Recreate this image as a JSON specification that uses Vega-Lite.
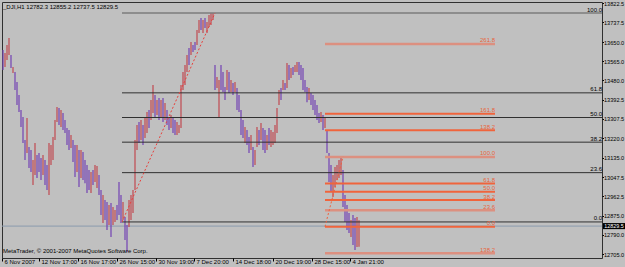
{
  "$schema": "https://vega.github.io/schema/vega-lite/v6.json",
  "width": 600,
  "height": 256,
  "autosize": {"type": "none"},
  "padding": {"left": 2, "top": 2, "right": 23, "bottom": 9},
  "background": "#c0c0c0",
  "config": {"view": {"stroke": "#303030", "strokeWidth": 1}, "font": "Liberation Sans", "axis": {"grid": false}},
  "datasets": {
    "bars": [
      {"t":1,"p":13614,"low":13525,"dir":"d"},{"t":3,"p":13601,"low":13539,"dir":"u"},{"t":5,"p":13637,"low":13570,"dir":"u"},{"t":7,"p":13668,"low":13592,"dir":"u"},{"t":9,"p":13592,"low":13534,"dir":"d"},{"t":11,"p":13539,"low":13512,"dir":"u"},{"t":13,"p":13516,"low":13436,"dir":"d"},{"t":15,"p":13472,"low":13369,"dir":"d"},{"t":17,"p":13414,"low":13338,"dir":"d"},{"t":19,"p":13347,"low":13271,"dir":"d"},
      {"t":21,"p":13316,"low":13200,"dir":"d"},{"t":23,"p":13213,"low":13124,"dir":"d"},{"t":25,"p":13311,"low":13155,"dir":"u"},{"t":27,"p":13182,"low":13088,"dir":"d"},{"t":29,"p":13169,"low":13071,"dir":"d"},{"t":31,"p":13124,"low":13013,"dir":"u"},{"t":33,"p":13200,"low":13057,"dir":"u"},{"t":35,"p":13146,"low":13044,"dir":"d"},{"t":37,"p":13155,"low":13071,"dir":"d"},{"t":39,"p":13133,"low":13035,"dir":"d"},
      {"t":41,"p":13146,"low":13057,"dir":"u"},{"t":43,"p":13124,"low":13013,"dir":"d"},{"t":45,"p":13102,"low":12990,"dir":"d"},{"t":47,"p":13200,"low":12968,"dir":"u"},{"t":49,"p":13191,"low":13102,"dir":"u"},{"t":51,"p":13227,"low":13124,"dir":"u"},{"t":53,"p":13302,"low":13213,"dir":"u"},{"t":55,"p":13360,"low":13293,"dir":"u"},{"t":57,"p":13356,"low":13280,"dir":"d"},{"t":59,"p":13347,"low":13271,"dir":"u"},
      {"t":61,"p":13334,"low":13258,"dir":"d"},{"t":63,"p":13302,"low":13244,"dir":"d"},{"t":65,"p":13267,"low":13191,"dir":"d"},{"t":67,"p":13258,"low":13169,"dir":"d"},{"t":69,"p":13235,"low":13178,"dir":"u"},{"t":71,"p":13213,"low":13115,"dir":"d"},{"t":73,"p":13191,"low":13048,"dir":"d"},{"t":75,"p":13191,"low":13071,"dir":"u"},{"t":77,"p":13169,"low":13004,"dir":"d"},{"t":79,"p":13169,"low":13044,"dir":"u"},
      {"t":81,"p":13160,"low":13035,"dir":"d"},{"t":83,"p":13124,"low":13021,"dir":"d"},{"t":85,"p":13102,"low":12977,"dir":"d"},{"t":87,"p":13079,"low":12990,"dir":"d"},{"t":89,"p":13071,"low":12977,"dir":"u"},{"t":91,"p":13079,"low":13013,"dir":"d"},{"t":93,"p":13102,"low":13026,"dir":"u"},{"t":95,"p":13097,"low":12999,"dir":"u"},{"t":97,"p":13057,"low":12968,"dir":"d"},{"t":99,"p":12990,"low":12879,"dir":"d"},
      {"t":101,"p":12968,"low":12843,"dir":"u"},{"t":103,"p":12946,"low":12857,"dir":"d"},{"t":105,"p":12937,"low":12812,"dir":"d"},{"t":107,"p":12923,"low":12834,"dir":"u"},{"t":109,"p":12932,"low":12781,"dir":"d"},{"t":111,"p":12915,"low":12834,"dir":"u"},{"t":113,"p":12901,"low":12848,"dir":"u"},{"t":115,"p":12923,"low":12857,"dir":"d"},{"t":117,"p":13026,"low":12879,"dir":"d"},{"t":119,"p":12968,"low":12843,"dir":"d"},
      {"t":121,"p":12937,"low":12857,"dir":"u"},{"t":123,"p":12870,"low":12768,"dir":"d"},{"t":125,"p":12834,"low":12714,"dir":"d"},{"t":127,"p":12946,"low":12825,"dir":"u"},{"t":129,"p":12968,"low":12857,"dir":"u"},{"t":131,"p":12990,"low":12888,"dir":"u"},{"t":133,"p":13213,"low":12990,"dir":"u"},{"t":135,"p":13280,"low":13169,"dir":"u"},{"t":137,"p":13293,"low":13200,"dir":"d"},{"t":139,"p":13302,"low":13213,"dir":"u"},
      {"t":141,"p":13280,"low":13191,"dir":"d"},{"t":143,"p":13311,"low":13222,"dir":"u"},{"t":145,"p":13338,"low":13244,"dir":"u"},{"t":147,"p":13347,"low":13267,"dir":"d"},{"t":149,"p":13391,"low":13302,"dir":"u"},{"t":151,"p":13458,"low":13334,"dir":"u"},{"t":153,"p":13414,"low":13311,"dir":"d"},{"t":155,"p":13391,"low":13325,"dir":"u"},{"t":157,"p":13400,"low":13302,"dir":"d"},{"t":159,"p":13391,"low":13311,"dir":"u"},
      {"t":161,"p":13400,"low":13293,"dir":"d"},{"t":163,"p":13378,"low":13302,"dir":"u"},{"t":165,"p":13347,"low":13280,"dir":"d"},{"t":167,"p":13316,"low":13258,"dir":"d"},{"t":169,"p":13325,"low":13267,"dir":"u"},{"t":171,"p":13311,"low":13244,"dir":"d"},{"t":173,"p":13302,"low":13235,"dir":"d"},{"t":175,"p":13293,"low":13235,"dir":"u"},{"t":177,"p":13280,"low":13244,"dir":"u"},{"t":179,"p":13458,"low":13267,"dir":"u"},
      {"t":181,"p":13516,"low":13436,"dir":"u"},{"t":183,"p":13548,"low":13458,"dir":"u"},{"t":185,"p":13592,"low":13516,"dir":"u"},{"t":187,"p":13623,"low":13548,"dir":"d"},{"t":189,"p":13650,"low":13592,"dir":"u"},{"t":191,"p":13637,"low":13605,"dir":"d"},{"t":193,"p":13650,"low":13614,"dir":"d"},{"t":195,"p":13704,"low":13637,"dir":"u"},{"t":197,"p":13748,"low":13690,"dir":"u"},{"t":199,"p":13757,"low":13704,"dir":"d"},
      {"t":201,"p":13748,"low":13690,"dir":"u"},{"t":203,"p":13757,"low":13712,"dir":"d"},{"t":205,"p":13739,"low":13690,"dir":"u"},{"t":207,"p":13770,"low":13717,"dir":"u"},{"t":209,"p":13779,"low":13726,"dir":"u"},{"t":211,"p":13779,"low":13748,"dir":"u"},{"t":213,"p":13548,"low":13436,"dir":"d"},{"t":215,"p":13494,"low":13445,"dir":"u"},{"t":217,"p":13481,"low":13316,"dir":"u"},{"t":219,"p":13548,"low":13436,"dir":"d"},
      {"t":221,"p":13516,"low":13427,"dir":"d"},{"t":223,"p":13449,"low":13391,"dir":"d"},{"t":225,"p":13525,"low":13436,"dir":"u"},{"t":227,"p":13516,"low":13423,"dir":"d"},{"t":229,"p":13481,"low":13427,"dir":"u"},{"t":231,"p":13467,"low":13414,"dir":"d"},{"t":233,"p":13472,"low":13427,"dir":"u"},{"t":235,"p":13445,"low":13347,"dir":"d"},{"t":237,"p":13414,"low":13338,"dir":"d"},{"t":239,"p":13347,"low":13235,"dir":"d"},
      {"t":241,"p":13302,"low":13222,"dir":"d"},{"t":243,"p":13271,"low":13200,"dir":"u"},{"t":245,"p":13258,"low":13191,"dir":"d"},{"t":247,"p":13227,"low":13155,"dir":"d"},{"t":249,"p":13235,"low":13169,"dir":"u"},{"t":251,"p":13182,"low":13093,"dir":"d"},{"t":253,"p":13169,"low":13102,"dir":"u"},{"t":255,"p":13271,"low":13182,"dir":"u"},{"t":257,"p":13258,"low":13191,"dir":"d"},{"t":259,"p":13289,"low":13213,"dir":"u"},
      {"t":261,"p":13267,"low":13169,"dir":"d"},{"t":263,"p":13258,"low":13155,"dir":"d"},{"t":265,"p":13235,"low":13169,"dir":"u"},{"t":267,"p":13267,"low":13191,"dir":"d"},{"t":269,"p":13258,"low":13182,"dir":"u"},{"t":271,"p":13249,"low":13191,"dir":"u"},{"t":273,"p":13280,"low":13200,"dir":"u"},{"t":275,"p":13356,"low":13244,"dir":"u"},{"t":277,"p":13436,"low":13369,"dir":"u"},{"t":279,"p":13445,"low":13391,"dir":"d"},
      {"t":281,"p":13481,"low":13436,"dir":"u"},{"t":283,"p":13467,"low":13436,"dir":"d"},{"t":285,"p":13556,"low":13445,"dir":"u"},{"t":287,"p":13548,"low":13481,"dir":"d"},{"t":289,"p":13534,"low":13490,"dir":"u"},{"t":291,"p":13539,"low":13503,"dir":"d"},{"t":293,"p":13548,"low":13516,"dir":"u"},{"t":295,"p":13561,"low":13516,"dir":"u"},{"t":297,"p":13561,"low":13503,"dir":"d"},{"t":299,"p":13548,"low":13481,"dir":"d"},
      {"t":301,"p":13534,"low":13436,"dir":"d"},{"t":303,"p":13481,"low":13427,"dir":"d"},{"t":305,"p":13449,"low":13382,"dir":"d"},{"t":307,"p":13445,"low":13391,"dir":"u"},{"t":309,"p":13423,"low":13369,"dir":"d"},{"t":311,"p":13414,"low":13347,"dir":"d"},{"t":313,"p":13391,"low":13325,"dir":"d"},{"t":315,"p":13369,"low":13302,"dir":"d"},{"t":317,"p":13334,"low":13289,"dir":"d"},{"t":319,"p":13338,"low":13293,"dir":"u"},
      {"t":321,"p":13325,"low":13258,"dir":"d"},{"t":323,"p":13311,"low":13267,"dir":"u"},{"t":325,"p":13258,"low":13155,"dir":"d"},{"t":327,"p":13155,"low":13026,"dir":"d"},{"t":329,"p":13102,"low":12981,"dir":"d"},{"t":331,"p":13057,"low":12959,"dir":"u"},{"t":333,"p":13093,"low":13004,"dir":"u"},{"t":335,"p":13102,"low":13035,"dir":"u"},{"t":337,"p":13124,"low":13044,"dir":"u"},{"t":339,"p":13137,"low":13057,"dir":"u"},
      {"t":341,"p":13079,"low":12915,"dir":"d"},{"t":343,"p":12968,"low":12848,"dir":"d"},{"t":345,"p":12923,"low":12812,"dir":"d"},{"t":347,"p":12888,"low":12799,"dir":"d"},{"t":349,"p":12857,"low":12781,"dir":"u"},{"t":351,"p":12879,"low":12745,"dir":"d"},{"t":353,"p":12866,"low":12723,"dir":"d"},{"t":355,"p":12870,"low":12736,"dir":"u"},{"t":357,"p":12855.2,"low":12737.5,"dir":"u"}
    ],
    "fib": [
      {"obj":"fib1","lvl":"100.0","p":13779,"line":"f1x","t":120,"t2":600},
      {"obj":"fib1","lvl":"61.8","p":13423.4,"line":"f1","t":120,"t2":600},
      {"obj":"fib1","lvl":"50.0","p":13313.5,"line":"f1","t":120,"t2":600},
      {"obj":"fib1","lvl":"38.2","p":13203.6,"line":"f1","t":120,"t2":600},
      {"obj":"fib1","lvl":"23.6","p":13067.7,"line":"f1","t":120,"t2":600},
      {"obj":"fib1","lvl":"0.0","p":12848,"line":"f1","t":120,"t2":600},
      {"obj":"fib2","lvl":"261.8","p":13641.2,"line":"f2b","t":323,"t2":493},
      {"obj":"fib2","lvl":"161.8","p":13330.2,"line":"f2a","t":323,"t2":493},
      {"obj":"fib2","lvl":"138.2","p":13256.8,"line":"f2a","t":323,"t2":493},
      {"obj":"fib2","lvl":"100.0","p":13138,"line":"f2b","t":323,"t2":493},
      {"obj":"fib2","lvl":"61.8","p":13019.2,"line":"f2a","t":323,"t2":493},
      {"obj":"fib2","lvl":"50.0","p":12982.5,"line":"f2a","t":323,"t2":493},
      {"obj":"fib2","lvl":"38.2","p":12945.8,"line":"f2a","t":323,"t2":493},
      {"obj":"fib2","lvl":"23.6","p":12900.4,"line":"f2b","t":323,"t2":493},
      {"obj":"fib2","lvl":"0.0","p":12827,"line":"f2a","t":323,"t2":493},
      {"obj":"fib2","lvl":"138.2","p":12708.2,"line":"f2b","t":323,"t2":493}
    ],
    "trend": [
      {"obj":"fib1","t":120,"p":12848},
      {"obj":"fib1","t":213,"p":13779},
      {"obj":"fib2","t":323,"p":12827},
      {"obj":"fib2","t":341,"p":13138}
    ]
  },
  "encoding": {
    "x": {"field": "t", "type": "quantitative", "scale": {"domain": [0, 600], "nice": false, "zero": false},
      "axis": {"orient": "bottom", "title": null, "values": [0,37,76,115,154,192,231,271,310,348],
        "labelExpr": "['6 Nov 2007','12 Nov 17:00','16 Nov 17:00','26 Nov 15:00','30 Nov 19:00','7 Dec 20:00','14 Dec 18:00','20 Dec 19:00','28 Dec 15:00','4 Jan 21:00'][indexof([0,37,76,115,154,192,231,271,310,348], datum.value)]",
        "domain": false, "grid": false, "ticks": true, "tickSize": 3, "tickColor": "#000000", "labelAlign": "left", "labelBaseline": "middle", "labelPadding": 0, "labelOffset": 2, "labelFontSize": 6, "labelColor": "#000000", "labelOverlap": false, "labelFlush": false, "labelBound": false}},
    "y": {"field": "p", "type": "quantitative", "scale": {"domain": [12687.3, 13828.3], "nice": false, "zero": false},
      "axis": {"orient": "right", "title": null, "values": [13822.5,13737.5,13650,13565,13480,13392.5,13307.5,13220,13135,13047.5,12962.5,12875,12790,12705], "format": ".1f", "domain": false, "grid": false, "ticks": true, "tickSize": 1.5, "tickColor": "#000000", "labelPadding": 0, "labelFontSize": 5.6, "labelColor": "#000000", "labelBaseline": "middle", "labelFlush": false, "labelOverlap": false, "labelBound": false}}
  },
  "resolve": {"scale": {"color": "independent", "strokeWidth": "independent"}},
  "layer": [
    {
      "data": {"values": [{"t": 0, "t2": 600, "p": 12829.5}]},
      "mark": {"type": "rule", "color": "#8a9aae", "strokeWidth": 1},
      "encoding": {"x2": {"field": "t2"}}
    },
    {
      "data": {"name": "bars"},
      "mark": {"type": "rule", "strokeWidth": 1.4, "opacity": 0.9},
      "encoding": {
        "y2": {"field": "low"},
        "color": {"field": "dir", "type": "nominal", "scale": {"domain": ["u", "d"], "range": ["#c04f55", "#7647b4"]}, "legend": null}
      }
    },
    {
      "data": {"name": "fib"},
      "mark": {"type": "rule"},
      "encoding": {
        "x2": {"field": "t2"},
        "color": {"field": "line", "type": "nominal", "scale": {"domain": ["f1", "f1x", "f2a", "f2b"], "range": ["#303030", "#7c7c7c", "#f0643c", "#dc9080"]}, "legend": null},
        "strokeWidth": {"field": "line", "type": "nominal", "scale": {"domain": ["f1", "f1x", "f2a", "f2b"], "range": [1, 2.5, 1, 2]}, "legend": null}
      }
    },
    {
      "data": {"name": "fib"},
      "mark": {"type": "text", "align": "right", "baseline": "bottom", "dy": -0.5, "fontSize": 6},
      "encoding": {
        "x": {"field": "t2", "type": "quantitative"},
        "text": {"field": "lvl"},
        "color": {"field": "obj", "type": "nominal", "scale": {"domain": ["fib1", "fib2"], "range": ["#000000", "#e8643c"]}, "legend": null}
      }
    },
    {
      "data": {"name": "trend"},
      "mark": {"type": "line", "strokeDash": [2, 2], "strokeWidth": 1},
      "encoding": {
        "color": {"field": "obj", "type": "nominal", "scale": {"domain": ["fib1", "fib2"], "range": ["#e8403c", "#f0603c"]}, "legend": null}
      }
    },
    {
      "data": {"values": [{"t": 601, "t2": 623, "p": 12816, "hi": 12843}]},
      "mark": {"type": "rect", "color": "#000000"},
      "encoding": {"x2": {"field": "t2"}, "y2": {"field": "hi"}}
    },
    {
      "data": {"values": [{"t": 612, "p": 12829.5, "s": "12829.5"}]},
      "mark": {"type": "text", "color": "#ffffff", "fontSize": 5.4, "align": "center", "baseline": "middle"},
      "encoding": {"text": {"field": "s"}}
    },
    {
      "data": {"values": [
        {"t": 1, "p": 13806, "s": "_DJI,H1  12782.3 12855.2 12737.5 12829.5"},
        {"t": 1, "p": 12718, "s": "MetaTrader, © 2001-2007 MetaQuotes Software Corp."}
      ]},
      "mark": {"type": "text", "color": "#000000", "fontSize": 6, "align": "left", "baseline": "middle"},
      "encoding": {"text": {"field": "s"}}
    }
  ]
}
